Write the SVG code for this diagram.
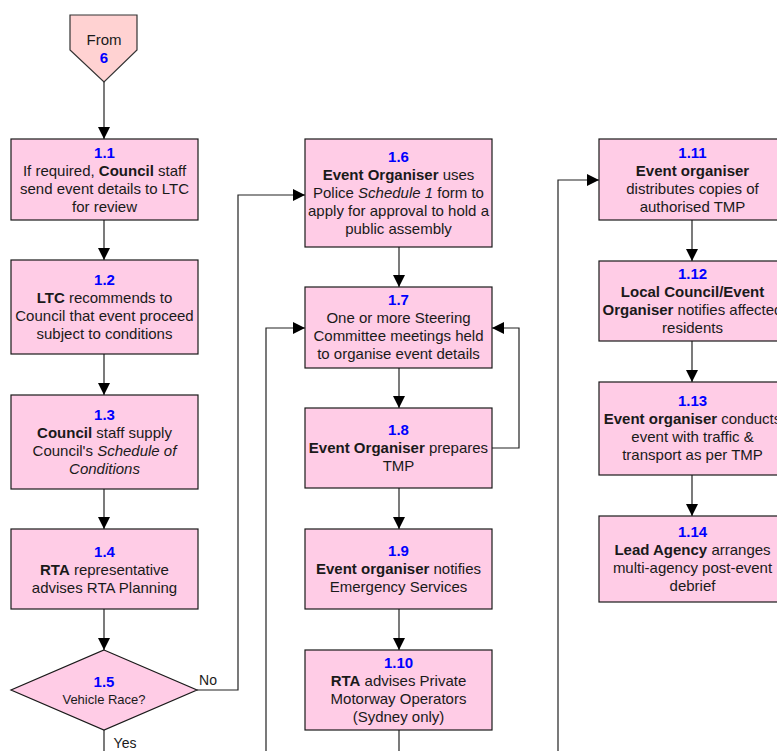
<svg xmlns="http://www.w3.org/2000/svg" width="777" height="751" viewBox="0 0 777 751">
<style>
text{font-family:"Liberation Sans",Arial,sans-serif;font-size:15px;fill:#1a1a1a;text-anchor:middle}
.n{fill:#0000ff;font-weight:bold}
.b{font-weight:bold}
.i{font-style:italic}
.s{font-size:13px}
.box{fill:#ffcce6;stroke:#1a1a1a;stroke-width:1.2}
.from{fill:#ffd2d2;stroke:#333;stroke-width:1.2}
.c{fill:none;stroke:#222;stroke-width:1.2}
.ca{fill:none;stroke:#222;stroke-width:1.2;marker-end:url(#ah)}
</style>
<defs>
<marker id="ah" markerUnits="userSpaceOnUse" markerWidth="12" markerHeight="12" refX="12" refY="6" orient="auto">
<path d="M0,0 L12,6 L0,12 z" fill="#000"/>
</marker>
</defs>
<g id="connectors">
<path class="ca" d="M104,82 V139"/>
<path class="ca" d="M104,220 V260"/>
<path class="ca" d="M104,354 V395"/>
<path class="ca" d="M104,489 V529"/>
<path class="ca" d="M104,609 V650"/>
<path class="c" d="M104,730 V751"/>
<path class="ca" d="M197,690 H238 V195 H305"/>
<path class="ca" d="M399,247 V287"/>
<path class="ca" d="M399,368 V408"/>
<path class="ca" d="M492,448 H519 V328 H492"/>
<path class="ca" d="M266,751 V328 H305"/>
<path class="ca" d="M399,488 V529"/>
<path class="ca" d="M399,609 V650"/>
<path class="c" d="M399,730 V751"/>
<path class="ca" d="M558,751 V180 H599"/>
<path class="ca" d="M692,220 V261"/>
<path class="ca" d="M692,341 V382"/>
<path class="ca" d="M692,475 V516"/>
<text x="208" y="685" style="font-size:14px">No</text>
<text x="125" y="748" style="font-size:14px">Yes</text>
</g>
<g id="from6">
<path class="from" d="M70,15 H137 V50 L104,82 L70,50 Z"/>
<text x="104" y="45">From</text>
<text x="104" y="63" class="n">6</text>
</g>
<g id="n1_1">
<rect class="box" x="11" y="139" width="187" height="81"/>
<text x="104.5" y="158" class="n">1.1</text>
<text x="104.5" y="176">If required, <tspan class="b">Council</tspan> staff</text>
<text x="104.5" y="194">send event details to LTC</text>
<text x="104.5" y="212">for review</text>
</g>
<g id="n1_2">
<rect class="box" x="11" y="260" width="187" height="94"/>
<text x="104.5" y="285" class="n">1.2</text>
<text x="104.5" y="303"><tspan class="b">LTC</tspan> recommends to</text>
<text x="104.5" y="321">Council that event proceed</text>
<text x="104.5" y="339">subject to conditions</text>
</g>
<g id="n1_3">
<rect class="box" x="11" y="395" width="187" height="94"/>
<text x="104.5" y="420" class="n">1.3</text>
<text x="104.5" y="438"><tspan class="b">Council</tspan> staff supply</text>
<text x="104.5" y="456">Council's <tspan class="i">Schedule of</tspan></text>
<text x="104.5" y="474" class="i">Conditions</text>
</g>
<g id="n1_4">
<rect class="box" x="11" y="529" width="187" height="80"/>
<text x="104.5" y="557" class="n">1.4</text>
<text x="104.5" y="575"><tspan class="b">RTA</tspan> representative</text>
<text x="104.5" y="593">advises RTA Planning</text>
</g>
<g id="n1_5">
<path class="box" d="M104,650 L197,690 L104,730 L11,690 Z"/>
<text x="104" y="687" class="n">1.5</text>
<text x="104" y="704" class="s">Vehicle Race?</text>
</g>
<g id="n1_6">
<rect class="box" x="305" y="139" width="187" height="108"/>
<text x="398.5" y="162" class="n">1.6</text>
<text x="398.5" y="180"><tspan class="b">Event Organiser</tspan> uses</text>
<text x="398.5" y="198">Police <tspan class="i">Schedule 1</tspan> form to</text>
<text x="398.5" y="216">apply for approval to hold a</text>
<text x="398.5" y="234">public assembly</text>
</g>
<g id="n1_7">
<rect class="box" x="305" y="287" width="187" height="81"/>
<text x="398.5" y="305" class="n">1.7</text>
<text x="398.5" y="323">One or more Steering</text>
<text x="398.5" y="341">Committee meetings held</text>
<text x="398.5" y="359">to organise event details</text>
</g>
<g id="n1_8">
<rect class="box" x="305" y="408" width="187" height="80"/>
<text x="398.5" y="435" class="n">1.8</text>
<text x="398.5" y="453"><tspan class="b">Event Organiser</tspan> prepares</text>
<text x="398.5" y="471">TMP</text>
</g>
<g id="n1_9">
<rect class="box" x="305" y="529" width="187" height="80"/>
<text x="398.5" y="556" class="n">1.9</text>
<text x="398.5" y="574"><tspan class="b">Event organiser</tspan> notifies</text>
<text x="398.5" y="592">Emergency Services</text>
</g>
<g id="n1_10">
<rect class="box" x="305" y="650" width="187" height="80"/>
<text x="398.5" y="668" class="n">1.10</text>
<text x="398.5" y="686"><tspan class="b">RTA</tspan> advises Private</text>
<text x="398.5" y="704">Motorway Operators</text>
<text x="398.5" y="722">(Sydney only)</text>
</g>
<g id="n1_11">
<rect class="box" x="599" y="139" width="187" height="81"/>
<text x="692.5" y="158" class="n">1.11</text>
<text x="692.5" y="176" class="b">Event organiser</text>
<text x="692.5" y="194">distributes copies of</text>
<text x="692.5" y="212">authorised TMP</text>
</g>
<g id="n1_12">
<rect class="box" x="599" y="261" width="187" height="80"/>
<text x="692.5" y="279" class="n">1.12</text>
<text x="692.5" y="297" class="b">Local Council/Event</text>
<text x="692.5" y="315"><tspan class="b">Organiser</tspan> notifies affected</text>
<text x="692.5" y="333">residents</text>
</g>
<g id="n1_13">
<rect class="box" x="599" y="382" width="187" height="93"/>
<text x="692.5" y="406" class="n">1.13</text>
<text x="692.5" y="424"><tspan class="b">Event organiser</tspan> conducts</text>
<text x="692.5" y="442">event with traffic &amp;</text>
<text x="692.5" y="460">transport as per TMP</text>
</g>
<g id="n1_14">
<rect class="box" x="599" y="516" width="187" height="86"/>
<text x="692.5" y="537" class="n">1.14</text>
<text x="692.5" y="555"><tspan class="b">Lead Agency</tspan> arranges</text>
<text x="692.5" y="573">multi-agency post-event</text>
<text x="692.5" y="591">debrief</text>
</g>
</svg>
